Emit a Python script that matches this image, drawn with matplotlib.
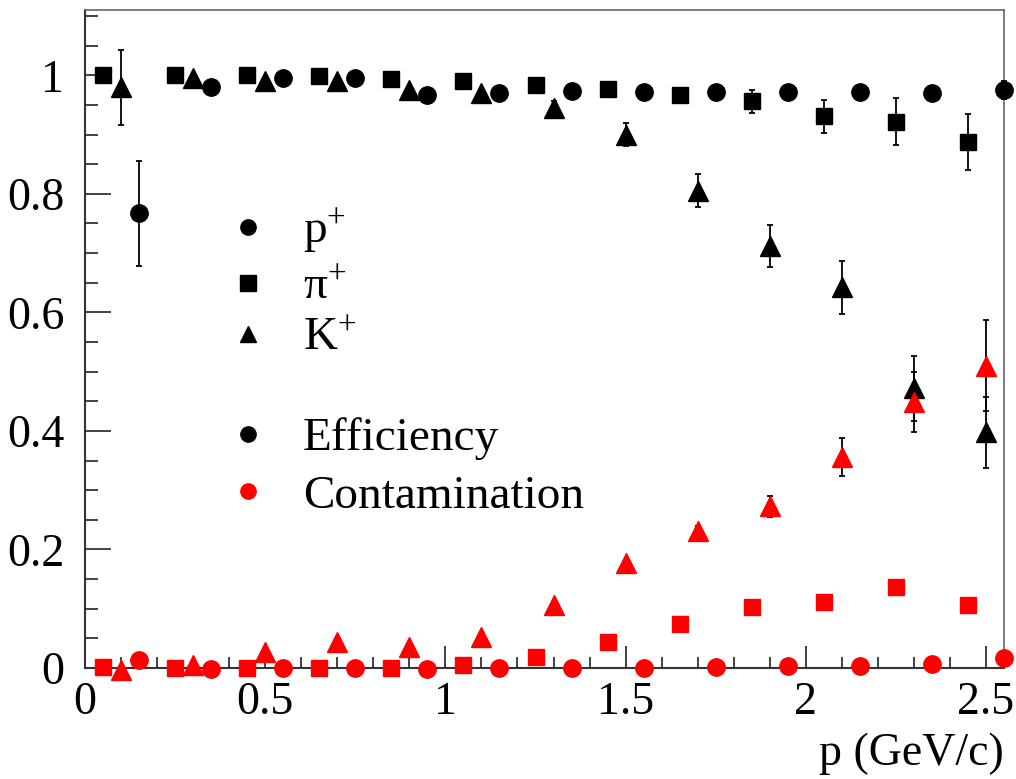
import numpy as np
import matplotlib
matplotlib.use("Agg")
import matplotlib.pyplot as plt
from matplotlib.lines import Line2D
from matplotlib.ticker import MultipleLocator, FixedLocator

plt.rcParams['font.family'] = ['Liberation Serif', 'DejaVu Serif']
plt.rcParams['mathtext.fontset'] = 'custom'
plt.rcParams['mathtext.rm'] = 'Liberation Serif'
plt.rcParams['mathtext.it'] = 'Liberation Serif:italic'

# momentum bins (GeV/c)
p_pi = [0.05, 0.25, 0.45, 0.65, 0.85, 1.05, 1.25, 1.45, 1.65, 1.85, 2.05, 2.25, 2.45]
p_k = [0.10, 0.30, 0.50, 0.70, 0.90, 1.10, 1.30, 1.50, 1.70, 1.90, 2.10, 2.30, 2.50]
p_p = [0.15, 0.35, 0.55, 0.75, 0.95, 1.15, 1.35, 1.55, 1.75, 1.95, 2.15, 2.35, 2.55]

# efficiency
eff_pi = [1.0, 1.0, 1.0, 0.999, 0.994, 0.99, 0.984, 0.977, 0.966, 0.956, 0.931, 0.922, 0.887]
eff_pi_err = [0, 0, 0, 0, 0, 0, 0.005, 0.008, 0.01, 0.02, 0.028, 0.04, 0.047]
eff_k = [0.98, 0.996, 0.99, 0.99, 0.975, 0.97, 0.945, 0.9, 0.805, 0.712, 0.642, 0.472, 0.398]
eff_k_err = [0.063, 0, 0, 0, 0, 0, 0.012, 0.02, 0.028, 0.036, 0.044, 0.055, 0.06]
eff_p = [0.767, 0.98, 0.995, 0.995, 0.967, 0.971, 0.973, 0.972, 0.972, 0.972, 0.972, 0.971, 0.975]
eff_p_err = [0.088, 0, 0, 0, 0, 0, 0, 0, 0, 0, 0, 0, 0.015]

# contamination
cont_pi = [0.002, 0.0, 0.0, 0.0, 0.0, 0.005, 0.018, 0.044, 0.074, 0.103, 0.111, 0.137, 0.106]
cont_k = [-0.003, 0.005, 0.027, 0.044, 0.035, 0.052, 0.106, 0.177, 0.231, 0.273, 0.356, 0.449, 0.51]
cont_k_err = [0, 0, 0, 0, 0, 0, 0, 0.005, 0.008, 0.018, 0.032, 0.05, 0.077]
cont_p = [0.013, -0.002, 0.0, 0.0, -0.002, 0.0, 0.0, 0.0, 0.001, 0.004, 0.003, 0.006, 0.017]

FS = 33
LFS = 34
fig = plt.figure(figsize=(10.16, 7.79), dpi=100)
ax = fig.add_axes([0.0837, 0.1425, 0.9045, 0.8445])

def draw(x, y, err, marker, color, ms):
    ax.errorbar(x, y, yerr=err, fmt=marker, color=color, ecolor='black',
                elinewidth=1.3, capsize=2.5, capthick=1.3, ms=ms,
                mec=color, clip_on=False, zorder=3)

draw(p_p, eff_p, eff_p_err, 'o', 'black', 12.5)
draw(p_pi, eff_pi, eff_pi_err, 's', 'black', 12)
draw(p_k, eff_k, eff_k_err, '^', 'black', 14)
draw(p_p, cont_p, None, 'o', 'red', 12.5)
draw(p_pi, cont_pi, None, 's', 'red', 12)
draw(p_k, cont_k, cont_k_err, '^', 'red', 14)

ax.set_xlim(0, 2.55)
ax.set_ylim(0, 1.11)
ax.xaxis.set_major_locator(FixedLocator([0, 0.5, 1, 1.5, 2, 2.5]))
ax.xaxis.set_major_formatter(plt.FuncFormatter(lambda v, _: f"{v:g}"))
ax.xaxis.set_minor_locator(MultipleLocator(0.1))
ax.yaxis.set_major_locator(FixedLocator([0, 0.2, 0.4, 0.6, 0.8, 1.0]))
ax.yaxis.set_major_formatter(plt.FuncFormatter(lambda v, _: f"{v:g}"))
ax.yaxis.set_minor_locator(MultipleLocator(0.05))
ax.tick_params(axis='both', which='both', direction='in', top=False, right=False,
               labelsize=FS, color='#333333', width=1.3)
ax.tick_params(axis='y', which='major', length=19, pad=15)
ax.tick_params(axis='y', which='minor', length=9.5)
ax.tick_params(axis='x', which='major', length=16, pad=10)
ax.tick_params(axis='x', which='minor', length=8)
for s in ['left', 'bottom']:
    ax.spines[s].set_linewidth(1.5)
    ax.spines[s].set_color('#333333')
for s in ['top', 'right']:
    ax.spines[s].set_linewidth(1.2)
    ax.spines[s].set_color('#666666')

ax.set_xlabel('p (GeV/c)', fontsize=FS, loc='right', labelpad=6)

h1 = [Line2D([], [], ls='none', marker=m, color='black', ms=s)
      for m, s in [('o', 11), ('s', 11), ('^', 12)]]
leg1 = ax.legend(h1, ['p$^{+}$', 'π$^{+}$', 'K$^{+}$'], loc='upper left',
                 bbox_to_anchor=(0.152, 0.70), frameon=False, fontsize=LFS,
                 handlelength=1.0, handletextpad=0.65, labelspacing=0.18,
                 borderpad=0, borderaxespad=0)
ax.add_artist(leg1)
h2 = [Line2D([], [], ls='none', marker='o', color=c, ms=11) for c in ['black', 'red']]
ax.legend(h2, ['Efficiency', 'Contamination'], loc='upper left',
          bbox_to_anchor=(0.152, 0.381), frameon=False, fontsize=LFS,
          handlelength=1.0, handletextpad=0.65, labelspacing=0.3,
          borderpad=0, borderaxespad=0)

fig.savefig('out.png', dpi=100)
